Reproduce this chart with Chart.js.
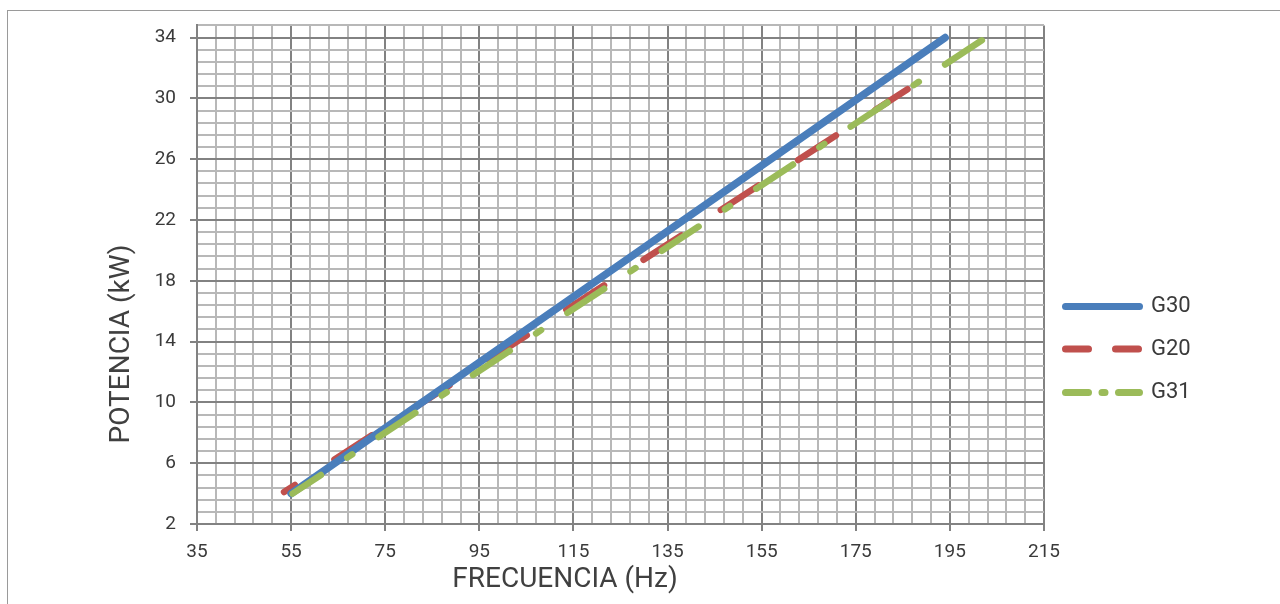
<!DOCTYPE html>
<html>
<head>
<meta charset="utf-8">
<script src="https://cdn.jsdelivr.net/npm/chart.js@4.4.1/dist/chart.umd.min.js"></script>
<style>
  html, body { margin: 0; padding: 0; background: #fff; }
  #wrap { position: relative; width: 1280px; height: 604px; overflow: hidden; }
  #frame { position: absolute; left: 7px; top: 10px; width: 1290px; height: 610px;
           border-top: 1px solid #9a9a9a; border-left: 1px solid #9a9a9a; }
  canvas { position: absolute; left: 0; top: 0; }
</style>
</head>
<body>
<div id="wrap">
  <div id="frame"></div>
  <canvas id="grafico" width="1280" height="604"></canvas>
</div>
<script>
// --- Data ---
const g30Freq = [55, 194];
const g30Power = [4, 34];
const g20Freq = [53.5, 186];
const g20Power = [4.1, 30.6];
const g31Freq = [55.3, 202.2];
const g31Power = [4, 33.9];

const xMajorTicks = [35, 55, 75, 95, 115, 135, 155, 175, 195, 215];
const yMajorTicks = [2, 6, 10, 14, 18, 22, 26, 30, 34];
const xTitle = 'FRECUENCIA (Hz)';
const yTitle = 'POTENCIA (kW)';

// --- Grid helpers (5 minor divisions per major step) ---
const minorTicks = (majors, top) => {
    const out = [];
    const step = (majors[1] - majors[0]) / 5;
    for (let v = majors[0]; v <= top + 1e-6; v += step) out.push(Math.round(v * 100) / 100);
    return out;
};
const xTicks = minorTicks(xMajorTicks, 215);
const yTicks = minorTicks(yMajorTicks, 34.8);
const isMajor = (majors, v) => majors.some(m => Math.abs(m - v) < 1e-6);

const MAJOR = '#828282';
const MINOR = '#b8b8b8';
const TEXT = '#3a3a3a';

const pts = (xs, ys) => xs.map((x, i) => ({ x, y: ys[i] }));

// legend + axis titles drawn on top
const extras = {
    id: 'extras',
    afterDraw(chart) {
        const ctx = chart.ctx;
        ctx.save();
        ctx.fillStyle = '#404040';
        ctx.font = '28px Roboto';
        ctx.textAlign = 'center';
        ctx.textBaseline = 'middle';
        ctx.fillText(xTitle, 565, 580);
        ctx.translate(122, 344);
        ctx.rotate(-Math.PI / 2);
        ctx.fillText(yTitle, 0, 0);
        ctx.restore();

        const items = [
            { label: 'G30', color: '#4a7ebb', dash: [], y: 306.5 },
            { label: 'G20', color: '#c0504d', dash: [23, 27], y: 349 },
            { label: 'G31', color: '#9bbb59', dash: [23, 13.5, 3, 13.5], y: 392.5 }
        ];
        ctx.save();
        ctx.lineCap = 'round';
        ctx.lineWidth = 7;
        ctx.font = '22px Roboto';
        ctx.textAlign = 'left';
        ctx.textBaseline = 'middle';
        items.forEach(it => {
            ctx.strokeStyle = it.color;
            ctx.setLineDash(it.dash);
            ctx.beginPath();
            ctx.moveTo(1065.5, it.y);
            ctx.lineTo(1139.5, it.y);
            ctx.stroke();
            ctx.fillStyle = TEXT;
            ctx.fillText(it.label, 1151, it.y);
        });
        ctx.restore();
    }
};

const ctx = document.getElementById('grafico').getContext('2d');
new Chart(ctx, {
    type: 'line',
    data: {
        datasets: [
            {
                label: 'G30', data: pts(g30Freq, g30Power),
                borderColor: '#4a7ebb', borderWidth: 7.5, borderCapStyle: 'round',
                pointRadius: 0, order: 1
            },
            {
                label: 'G20', data: pts(g20Freq, g20Power),
                borderColor: '#c0504d', borderWidth: 6.5, borderCapStyle: 'round',
                borderDash: [45, 47], borderDashOffset: 32,
                pointRadius: 0, order: 2
            },
            {
                label: 'G31', data: pts(g31Freq, g31Power),
                borderColor: '#9bbb59', borderWidth: 6.5, borderCapStyle: 'round',
                borderDash: [44, 31.5, 6, 31.5], borderDashOffset: 10,
                pointRadius: 0, order: 0
            }
        ]
    },
    options: {
        responsive: false,
        animation: false,
        devicePixelRatio: 1,
        layout: { padding: { top: 25, right: 236, left: 0, bottom: 0 } },
        plugins: { legend: { display: false }, tooltip: { enabled: false } },
        scales: {
            x: {
                type: 'linear', min: 35, max: 215,
                afterBuildTicks: (scale) => { scale.ticks = xTicks.map(v => ({ value: v })); },
                afterFit: (scale) => { scale.height = 80; },
                ticks: {
                    autoSkip: false, maxRotation: 0, padding: 10,
                    color: TEXT, font: { family: 'Roboto', size: 19 },
                    callback: (v) => isMajor(xMajorTicks, v) ? String(v) : ''
                },
                grid: {
                    lineWidth: 2, tickLength: 7,
                    color: (c) => isMajor(xMajorTicks, c.tick.value) ? MAJOR : MINOR,
                    tickColor: (c) => isMajor(xMajorTicks, c.tick.value) ? MAJOR : 'rgba(0,0,0,0)'
                },
                border: { color: MAJOR, width: 2 }
            },
            y: {
                type: 'linear', min: 2, max: 34.8,
                afterBuildTicks: (scale) => { scale.ticks = yTicks.map(v => ({ value: v })); },
                afterFit: (scale) => { scale.width = 197; },
                ticks: {
                    autoSkip: false, padding: 14,
                    color: TEXT, font: { family: 'Roboto', size: 19 },
                    callback: (v) => isMajor(yMajorTicks, v) ? String(v) : ''
                },
                grid: {
                    lineWidth: 2, tickLength: 7,
                    color: (c) => isMajor(yMajorTicks, c.tick.value) ? MAJOR : MINOR,
                    tickColor: (c) => isMajor(yMajorTicks, c.tick.value) ? MAJOR : 'rgba(0,0,0,0)'
                },
                border: { color: MAJOR, width: 2 }
            }
        }
    },
    plugins: [extras]
});
</script>
</body>
</html>
